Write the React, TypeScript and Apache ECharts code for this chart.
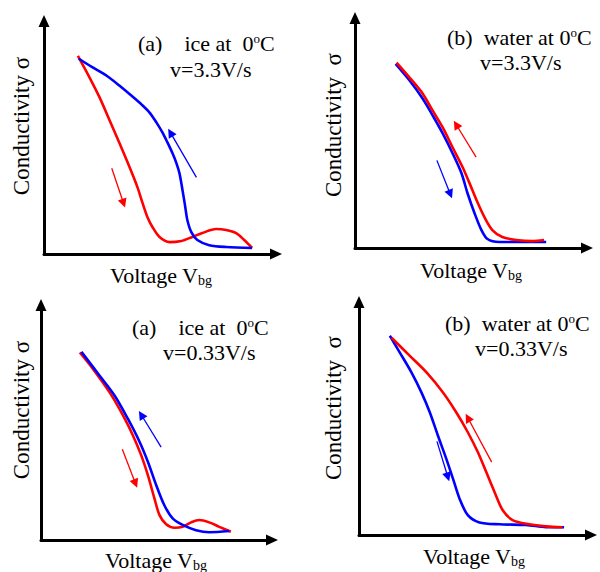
import React, { useEffect, useRef } from "react";
import * as echarts from "echarts";

// ---- Data (normalized units: Voltage 0..100, Conductivity 0..100) ----
const p1Red = [[14.6,85.0],[19.7,75.6],[24.0,67.1],[28.3,57.3],[32.6,47.4],[36.9,37.2],[40.3,28.6],[42.5,21.8],[44.6,15.8],[46.8,11.5],[49.8,7.3],[54.1,5.1],[59.2,5.6],[63.9,7.3],[68.2,9.0],[74.2,10.7],[78.5,10.3],[82.8,9.0],[86.3,6.0],[89.7,2.6]];
const p1Blue = [[15.0,83.8],[20.6,80.3],[27.0,76.5],[32.6,72.2],[38.2,67.5],[42.1,64.1],[45.5,60.7],[48.5,56.4],[51.1,52.1],[53.2,47.9],[55.4,43.2],[57.1,38.9],[58.4,34.6],[59.7,27.4],[60.9,20.1],[61.8,14.5],[63.5,9.4],[66.1,6.0],[71.2,3.8],[78.5,3.0],[89.7,2.6]];
const p2Red = [[17.9,80.6],[23.6,74.0],[29.2,67.1],[33.5,59.7],[37.8,52.4],[42.1,43.7],[46.4,35.1],[49.4,28.1],[52.4,20.8],[55.8,13.4],[59.2,7.8],[63.5,4.8],[69.5,3.5],[76.4,3.0],[81.5,3.5]];
const p2Blue = [[17.5,80.0],[23.6,72.7],[29.2,64.9],[33.5,57.6],[37.8,49.8],[42.1,41.1],[45.9,32.5],[48.5,23.8],[51.5,15.2],[54.5,7.8],[57.1,3.9],[62.2,2.6],[69.5,2.6],[76.4,2.6],[82.4,2.6]];
const p3Red = [[16.8,79.8],[22.5,72.8],[29.7,62.8],[35.5,53.0],[39.8,44.5],[43.4,36.0],[46.3,27.5],[49.1,17.7],[51.3,10.6],[54.2,6.7],[57.8,5.2],[61.3,5.6],[65.0,7.5],[68.5,8.5],[72.8,7.5],[77.2,5.6],[82.2,3.5]];
const p3Blue = [[17.5,80.1],[25.4,69.9],[31.9,61.4],[37.6,51.6],[42.7,41.7],[46.3,33.2],[49.9,23.3],[53.4,14.8],[57.0,9.2],[61.3,6.4],[67.1,4.2],[72.8,3.3],[81.5,3.8]];
const p4Red = [[14.0,84.7],[21.9,76.9],[29.1,69.8],[36.2,61.2],[41.9,52.7],[46.9,44.1],[51.2,35.6],[54.8,27.1],[58.4,18.5],[61.9,10.7],[66.2,6.4],[73.4,4.6],[80.6,3.7],[87.7,3.3]];
const p4Blue = [[13.3,85.5],[17.6,78.3],[22.6,69.8],[26.9,61.2],[30.5,52.7],[34.0,42.7],[37.6,32.8],[40.5,24.2],[43.3,15.7],[46.9,8.5],[51.9,5.4],[60.5,4.6],[72.0,4.3],[80.6,3.4],[88.4,3.3]];

// sweep-direction arrows [start, end]
const p1RedArrow = [[29.2,36.8],[34.3,21.8]];
const p1BlueArrow = [[65.7,32.9],[54.5,52.1]];
const p2RedArrow = [[52.2,39.5],[43.6,53.7]];
const p2BlueArrow = [[35.3,38.1],[41.1,23.4]];
const p3RedArrow = [[35.2,38.6],[40.9,24.0]];
const p3BlueArrow = [[52.0,39.5],[43.4,53.3]];
const p4RedArrow = [[57.2,31.3],[46.9,50.3]];
const p4BlueArrow = [[33.6,40.2],[38.3,24.9]];

const titles = ["(a)    ice at  0{sup|o}C", "(b)  water at 0{sup|o}C", "(a)    ice at  0{sup|o}C", "(b)  water at 0{sup|o}C"];
const rates = ["v=3.3V/s", "v=3.3V/s", "v=0.33V/s", "v=0.33V/s"];
const xName = "Voltage V{sub|bg}";
const yNames = ["Conductivity σ", "Conductivity  σ", "Conductivity σ", "Conductivity  σ"];

const RED = "#ff0000";
const BLUE = "#0000ff";
const FONT = "Liberation Serif";

const panels = [
  { red: p1Red, blue: p1Blue, ra: p1RedArrow, ba: p1BlueArrow, grid: { left: 44, top: 21, width: 232, height: 233 }, redOnTop: false,
    t1: [138, 43], t2: [170, 69], xl: [161, 275], yl: [21, 126] },
  { red: p2Red, blue: p2Blue, ra: p2RedArrow, ba: p2BlueArrow, grid: { left: 355, top: 18, width: 232, height: 230 }, redOnTop: true,
    t1: [447, 37], t2: [480, 62], xl: [471, 270], yl: [333, 125] },
  { red: p3Red, blue: p3Blue, ra: p3RedArrow, ba: p3BlueArrow, grid: { left: 41, top: 305, width: 231, height: 235 }, redOnTop: false,
    t1: [132, 327], t2: [163, 352], xl: [156, 560], yl: [21, 410] },
  { red: p4Red, blue: p4Blue, ra: p4RedArrow, ba: p4BlueArrow, grid: { left: 359, top: 302, width: 232, height: 233 }, redOnTop: true,
    t1: [445, 323], t2: [475, 348], xl: [474, 556], yl: [333, 408] },
];

export default function App() {
  const ref = useRef<HTMLDivElement>(null);
  useEffect(() => {
    if (!ref.current) return;
    const chart = echarts.init(ref.current, null, { renderer: "svg" });
    const axisLine = {
      show: true,
      onZero: false,
      symbol: ["none", "triangle"],
      symbolSize: [11, 12],
      lineStyle: { color: "#000", width: 3 },
    };
    const grids: any[] = [];
    const xAxes: any[] = [];
    const yAxes: any[] = [];
    const series: any[] = [];
    const graphic: any[] = [];
    const txt = (text: string, x: number, y: number, align: string, size: number, extra: any = {}, rich?: any) => ({
      type: "text", x, y, ...extra,
      style: { text, fill: "#000", fontSize: size, fontFamily: FONT, textAlign: align, textVerticalAlign: "middle", ...(rich ? { rich } : {}) },
    });
    panels.forEach((p, i) => {
      grids.push({ ...p.grid, containLabel: false });
      xAxes.push({ gridIndex: i, type: "value", min: 0, max: 100, axisLine, axisTick: { show: false }, axisLabel: { show: false }, splitLine: { show: false } });
      yAxes.push({ gridIndex: i, type: "value", min: 0, max: 100, axisLine, axisTick: { show: false }, axisLabel: { show: false }, splitLine: { show: false } });
      const mk = (data: number[][], color: string, z: number) => ({
        type: "line", xAxisIndex: i, yAxisIndex: i, data, smooth: 0.3, showSymbol: false, symbol: "none",
        lineStyle: { color, width: 2.6 }, z,
      });
      series.push(mk(p.red, RED, p.redOnTop ? 4 : 3));
      series.push(mk(p.blue, BLUE, p.redOnTop ? 3 : 4));
      const arrow = (coords: number[][], color: string) => ({
        type: "lines", coordinateSystem: "cartesian2d", xAxisIndex: i, yAxisIndex: i,
        symbol: ["none", "triangle"], symbolSize: [6, 9],
        lineStyle: { color, width: 1.3, opacity: 1 },
        data: [{ coords }], z: 5,
      });
      series.push(arrow(p.ra, RED));
      series.push(arrow(p.ba, BLUE));
      graphic.push(txt(titles[i], p.t1[0], p.t1[1], "left", 22, {}, {
        sup: { fontSize: 13, fontFamily: FONT, verticalAlign: "top", lineHeight: 22 },
      }));
      graphic.push(txt(rates[i], p.t2[0], p.t2[1], "left", 22));
      graphic.push(txt(xName, p.xl[0], p.xl[1], "center", 22, {}, {
        sub: { fontSize: 14, fontFamily: FONT, verticalAlign: "bottom", padding: [10, 0, 0, 0] },
      }));
      graphic.push(txt(yNames[i], p.yl[0], p.yl[1], "center", 23, { rotation: Math.PI / 2 }));
    });
    chart.setOption({
      animation: false,
      backgroundColor: "#fff",
      grid: grids,
      xAxis: xAxes,
      yAxis: yAxes,
      series,
      graphic,
    });
    return () => chart.dispose();
  }, []);
  return <div ref={ref} style={{ position: "absolute", left: 0, top: 0, width: 600, height: 572 }} />;
}
